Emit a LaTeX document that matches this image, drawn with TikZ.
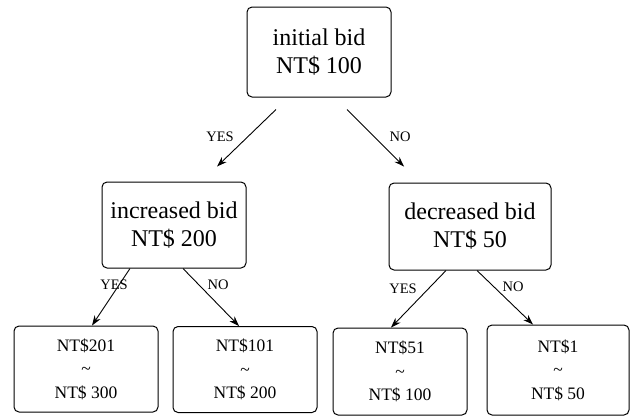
\documentclass[tikz,border=0pt]{standalone}
\usepackage{fontspec}
\setmainfont{Liberation Serif}
\usetikzlibrary{calc,arrows.meta}
\begin{document}
\begin{tikzpicture}[x=1pt,y=-1pt,
  bigbox/.style={draw,line width=1pt,rounded corners=5pt,align=center,inner sep=0pt,
    font=\fontsize{24}{28}\selectfont},
  leafbox/.style={draw,line width=1pt,rounded corners=5pt,align=center,inner sep=0pt,
    minimum width=144pt,minimum height=86pt,font=\fontsize{17.5}{23.5}\selectfont},
  lbl/.style={font=\fontsize{14.5}{16}\selectfont,inner sep=0pt},
  conn/.style={line width=0.9pt,-{Stealth[length=10pt,width=7pt]}}]
\useasboundingbox (0,0) rectangle (631,416);
\node[bigbox,minimum width=144pt,minimum height=90pt] (top) at (319,52) {initial bid\\NT\$ 100};
\node[bigbox,minimum width=144pt,minimum height=86pt] (inc) at (174,225) {increased bid\\NT\$ 200};
\node[bigbox,minimum width=162pt,minimum height=87pt] (dec) at (470,226.5) {decreased bid\\NT\$ 50};
\node[leafbox] (a) at (86,369) {NT\$201\\\textasciitilde\\NT\$ 300};
\node[leafbox] (b) at (245,369.5) {NT\$101\\\textasciitilde\\NT\$ 200};
\node[leafbox,minimum width=134pt,minimum height=87pt] (c) at (400,371.5) {NT\$51\\\textasciitilde\\NT\$ 100};
\node[leafbox,minimum width=142pt,minimum height=90pt] (d) at (558,370) {NT\$1\\\textasciitilde\\NT\$ 50};
\draw[conn] ($(top.south)+(-43,12)$) -- ($(inc.north)+(43,-15)$);
\draw[conn] ($(top.south)+(28,12)$) -- ($(dec.north)+(-66,-16)$);
\draw[conn] ($(inc.south)+(-44,0)$) -- ($(a.north)+(6,0)$);
\draw[conn] ($(inc.south)+(9,0)$) -- ($(b.north)+(-6,0)$);
\draw[conn] ($(dec.south)+(-24,0)$) -- ($(c.north)+(-9,0)$);
\draw[conn] ($(dec.south)+(7,0)$) -- ($(d.north)+(-25,0)$);
\node[lbl] (y1) at (220,137) {YES};
\node[lbl] (n1) at (400,137) {NO};
\node[lbl] (y2) at (114,285) {YES};
\node[lbl] (n2) at (218,285) {NO};
\node[lbl] (y3) at (403,289) {YES};
\node[lbl] (n3) at (513,287) {NO};
\end{tikzpicture}
\end{document}
